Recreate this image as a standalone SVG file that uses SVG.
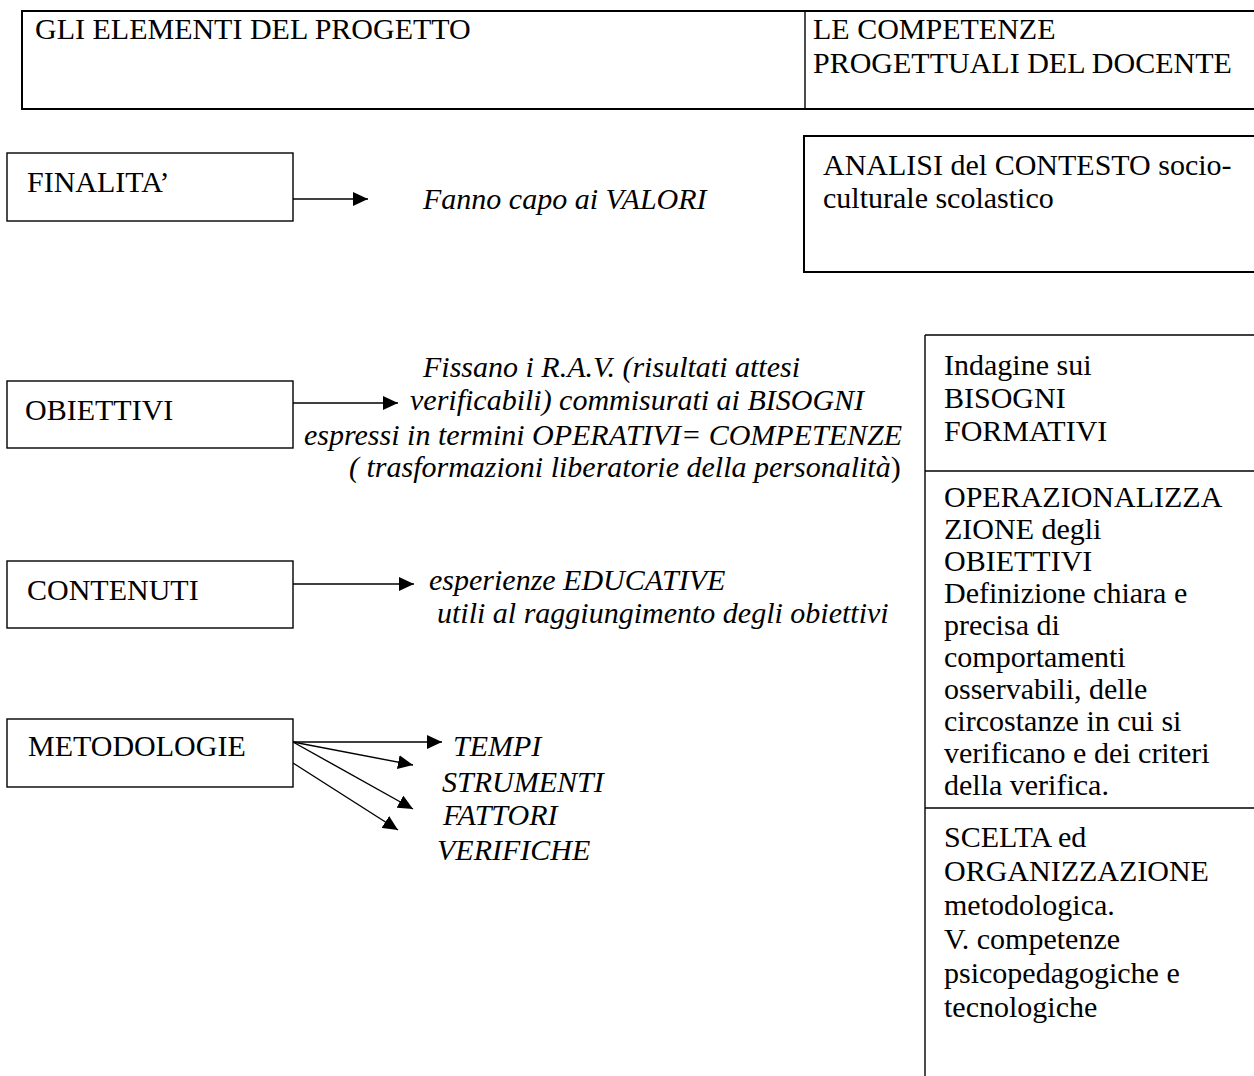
<svg xmlns="http://www.w3.org/2000/svg" width="1254" height="1076" viewBox="0 0 1254 1076">
<style>
text{font-family:"Liberation Serif","Times New Roman",serif;font-size:30px;fill:#000}
.i{font-style:italic}
.box{fill:#fff;stroke:#000;stroke-width:1.4}
.bold{fill:#fff;stroke:#000;stroke-width:2}
.ln{stroke:#000;stroke-width:1.4;fill:none}
.ar{stroke:#000;stroke-width:1.4;fill:none;marker-end:url(#ah)}
</style>
<defs>
<marker id="ah" markerUnits="userSpaceOnUse" markerWidth="16" markerHeight="14" refX="15" refY="7" orient="auto">
<path d="M0,0 L15,7 L0,14 z" fill="#000"/>
</marker>
</defs>
<rect width="1254" height="1076" fill="#fff"/>

<g id="header">
<rect class="bold" x="22" y="11" width="1240" height="98"/>
<line class="ln" x1="805" y1="11" x2="805" y2="109" stroke-width="2"/>
<text x="35" y="39">GLI ELEMENTI DEL PROGETTO</text>
<text x="813" y="39">LE COMPETENZE</text>
<text x="813" y="73">PROGETTUALI DEL DOCENTE</text>
</g>

<g id="finalita">
<rect class="box" x="7" y="153" width="286" height="68"/>
<text x="27" y="192">FINALITA’</text>
</g>
<g id="valori">
<text class="i" x="423" y="209">Fanno capo ai VALORI</text>
</g>

<g id="analisi">
<rect class="bold" x="804" y="136" width="460" height="136"/>
<text x="823" y="175">ANALISI del CONTESTO socio-</text>
<text x="823" y="208">culturale scolastico</text>
</g>

<g id="obiettivi">
<rect class="box" x="7" y="381" width="286" height="67"/>
<text x="25" y="420">OBIETTIVI</text>
</g>
<g id="obiettivi-desc">
<text class="i" x="423" y="377">Fissano i R.A.V. (risultati attesi</text>
<text class="i" x="410" y="410">verificabili) commisurati ai BISOGNI</text>
<text class="i" x="304" y="445">espressi in termini OPERATIVI= COMPETENZE</text>
<text class="i" x="349" y="477">( trasformazioni liberatorie della personalità<tspan font-style="normal">)</tspan></text>
</g>

<g id="contenuti">
<rect class="box" x="7" y="561" width="286" height="67"/>
<text x="27" y="600">CONTENUTI</text>
</g>
<g id="contenuti-desc">
<text class="i" x="429" y="590">esperienze EDUCATIVE</text>
<text class="i" x="437" y="623">utili al raggiungimento degli obiettivi</text>
</g>

<g id="metodologie">
<rect class="box" x="7" y="719" width="286" height="68"/>
<text x="28" y="756">METODOLOGIE</text>
</g>
<g id="metodologie-desc">
<text class="i" x="453" y="756">TEMPI</text>
<text class="i" x="442" y="792">STRUMENTI</text>
<text class="i" x="443" y="825">FATTORI</text>
<text class="i" x="437" y="860">VERIFICHE</text>
</g>

<g id="competenze">
<line class="ln" x1="925" y1="335" x2="1254" y2="335"/>
<line class="ln" x1="925" y1="335" x2="925" y2="1076"/>
<line class="ln" x1="925" y1="471" x2="1254" y2="471"/>
<line class="ln" x1="925" y1="808" x2="1254" y2="808"/>
<text x="944" y="375">Indagine sui</text>
<text x="944" y="408">BISOGNI</text>
<text x="944" y="441">FORMATIVI</text>
<text x="944" y="507">OPERAZIONALIZZA</text>
<text x="944" y="539">ZIONE degli</text>
<text x="944" y="571">OBIETTIVI</text>
<text x="944" y="603">Definizione chiara e</text>
<text x="944" y="635">precisa di</text>
<text x="944" y="667">comportamenti</text>
<text x="944" y="699">osservabili, delle</text>
<text x="944" y="731">circostanze in cui si</text>
<text x="944" y="763">verificano e dei criteri</text>
<text x="944" y="795">della verifica.</text>
<text x="944" y="847">SCELTA ed</text>
<text x="944" y="881">ORGANIZZAZIONE</text>
<text x="944" y="915">metodologica.</text>
<text x="944" y="949">V. competenze</text>
<text x="944" y="983">psicopedagogiche e</text>
<text x="944" y="1017">tecnologiche</text>
</g>

<g id="connectors">
<line class="ar" x1="293" y1="199" x2="368" y2="199"/>
<line class="ar" x1="293" y1="403" x2="398" y2="403"/>
<line class="ar" x1="293" y1="584" x2="414" y2="584"/>
<line class="ar" x1="293" y1="742" x2="442" y2="742"/>
<line class="ar" x1="293" y1="742" x2="413" y2="765"/>
<line class="ar" x1="293" y1="742" x2="413" y2="809"/>
<line class="ar" x1="293" y1="763" x2="398" y2="830"/>
</g>
</svg>
